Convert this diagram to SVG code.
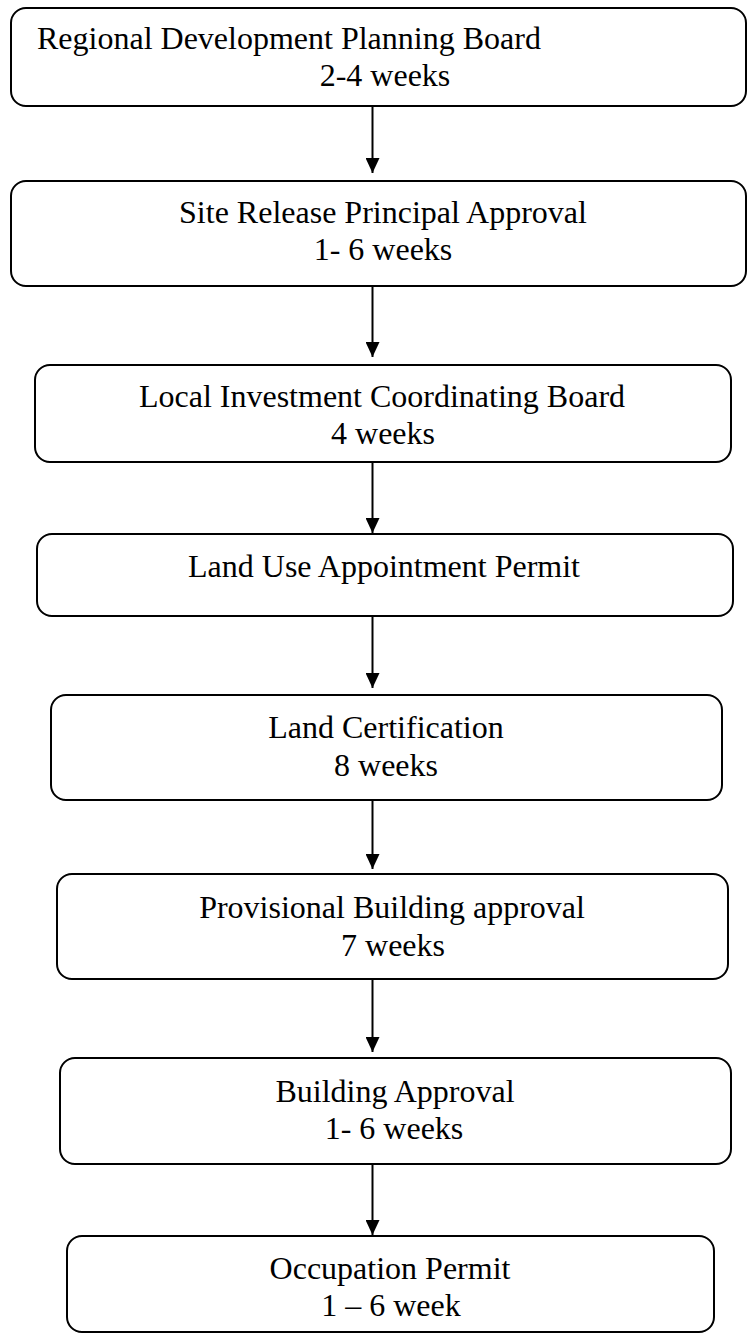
<svg xmlns="http://www.w3.org/2000/svg" width="747" height="1336" viewBox="0 0 747 1336">
  <style>
    .box { fill: #ffffff; stroke: #000000; stroke-width: 2; }
    .lbl { font-family: "Liberation Serif", "Times New Roman", serif; font-size: 32px; fill: #000000; text-anchor: middle; }
    .lbl-left { text-anchor: start; }
    .conn { stroke: #000000; stroke-width: 2; fill: none; marker-end: url(#arrow); }
  </style>
  <defs>
    <!-- solid triangular arrowhead, tip at the line end -->
    <marker id="arrow" markerWidth="16" markerHeight="14" refX="15" refY="7" orient="auto" markerUnits="userSpaceOnUse" viewBox="0 0 16 14">
      <path d="M0,0 L15,7 L0,14 Z" fill="#000000"/>
    </marker>
  </defs>
  <rect width="747" height="1336" fill="#ffffff"/>

  <!-- connectors -->
  <g id="connectors">
    <line class="conn" x1="372.5" y1="101" x2="372.5" y2="173"/>
    <line class="conn" x1="372.5" y1="286" x2="372.5" y2="357"/>
    <line class="conn" x1="372.5" y1="462" x2="372.5" y2="533"/>
    <line class="conn" x1="372.5" y1="617" x2="372.5" y2="688"/>
    <line class="conn" x1="372.5" y1="797" x2="372.5" y2="869"/>
    <line class="conn" x1="372.5" y1="979" x2="372.5" y2="1052"/>
    <line class="conn" x1="372.5" y1="1164" x2="372.5" y2="1235"/>
  </g>

  <g id="node-regional-board">
    <rect class="box" x="11" y="8" width="735" height="98" rx="15" ry="15"/>
    <text class="lbl lbl-left" x="37" y="49">Regional Development Planning Board</text>
    <text class="lbl" x="385" y="86">2-4 weeks</text>
  </g>

  <g id="node-site-release">
    <rect class="box" x="11" y="181" width="735" height="105" rx="15" ry="15"/>
    <text class="lbl" x="383" y="223">Site Release Principal Approval</text>
    <text class="lbl" x="383" y="260">1- 6 weeks</text>
  </g>

  <g id="node-investment-board">
    <rect class="box" x="35" y="365" width="696" height="97" rx="15" ry="15"/>
    <text class="lbl" x="382" y="407">Local Investment Coordinating Board</text>
    <text class="lbl" x="383" y="444">4 weeks</text>
  </g>

  <g id="node-land-use">
    <rect class="box" x="37" y="534" width="696" height="82" rx="15" ry="15"/>
    <text class="lbl" x="384" y="577">Land Use Appointment Permit</text>
  </g>

  <g id="node-land-cert">
    <rect class="box" x="51" y="695" width="671" height="105" rx="15" ry="15"/>
    <text class="lbl" x="386" y="738">Land Certification</text>
    <text class="lbl" x="386" y="776">8 weeks</text>
  </g>

  <g id="node-provisional">
    <rect class="box" x="57" y="874" width="671" height="105" rx="15" ry="15"/>
    <text class="lbl" x="392" y="918">Provisional Building approval</text>
    <text class="lbl" x="393" y="956">7 weeks</text>
  </g>

  <g id="node-building">
    <rect class="box" x="60" y="1058" width="671" height="106" rx="15" ry="15"/>
    <text class="lbl" x="395" y="1102">Building Approval</text>
    <text class="lbl" x="394" y="1139">1- 6 weeks</text>
  </g>

  <g id="node-occupation">
    <rect class="box" x="67" y="1236" width="647" height="96" rx="15" ry="15"/>
    <text class="lbl" x="390" y="1279">Occupation Permit</text>
    <text class="lbl" x="391" y="1316">1 – 6 week</text>
  </g>
</svg>
